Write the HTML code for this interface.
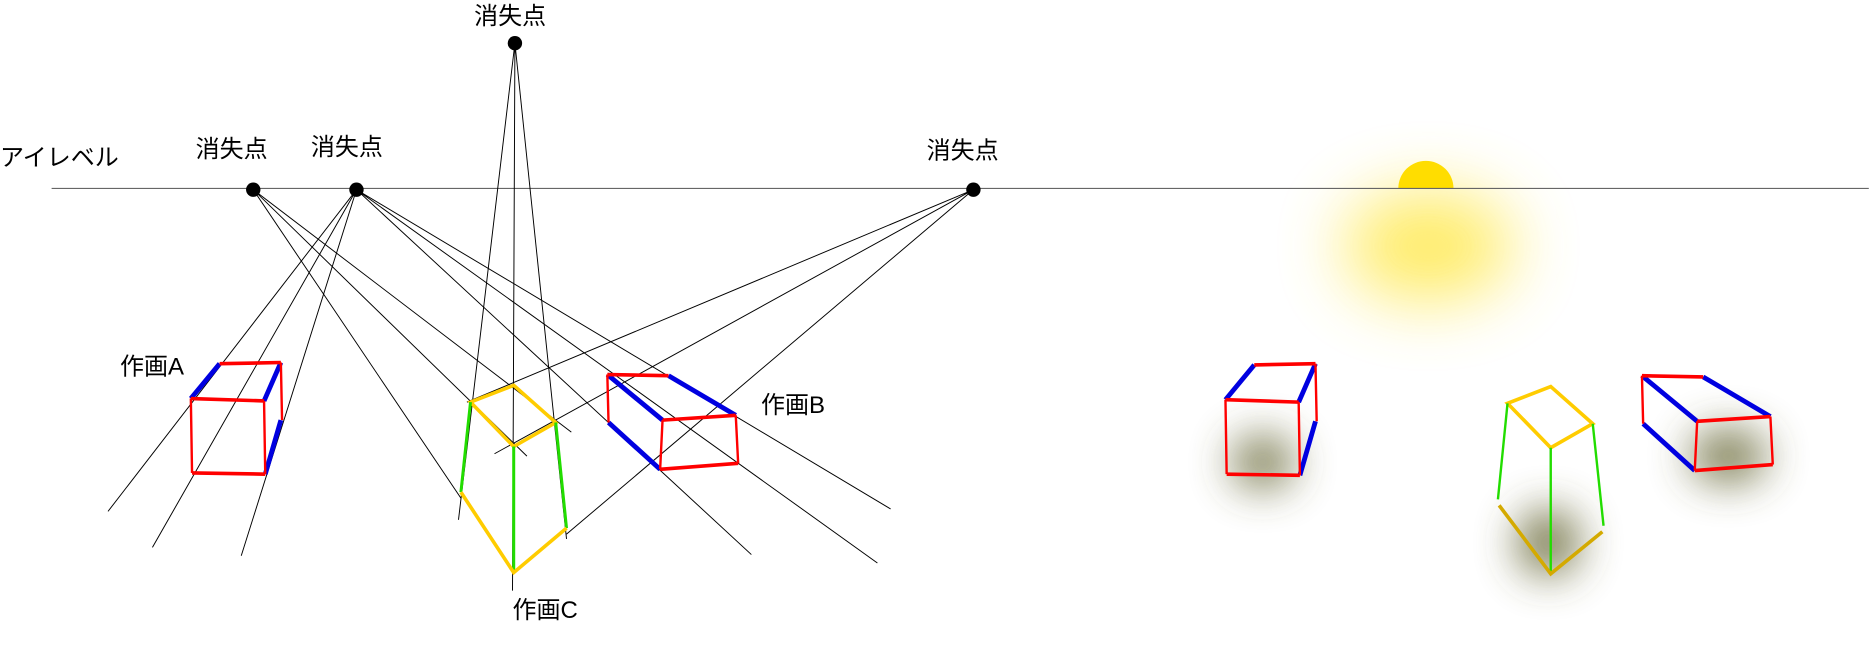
<!DOCTYPE html><html><head><meta charset="utf-8"><style>html,body{margin:0;padding:0;background:#fff}svg{display:block}text{font-family:"Liberation Sans","Noto Sans CJK JP",sans-serif;font-size:20px;fill:#000}</style></head><body>
<svg width="1876" height="647" viewBox="0 0 1563 539" preserveAspectRatio="none" xmlns="http://www.w3.org/2000/svg">
<defs>
<filter id="b1" x="-150%" y="-150%" width="400%" height="400%"><feGaussianBlur stdDeviation="18"/></filter>
<filter id="b2" x="-100%" y="-100%" width="300%" height="300%"><feGaussianBlur stdDeviation="28"/></filter>
<g id="boxA" fill="none" stroke-width="3">
<path d="M159,332L183,303M234,302L220,334M234,350L221,395" stroke="#0000e0" stroke-width="4"/>
<path d="M183,303L234,302M159,332L220,334M160,394L221,395" stroke="#f00" stroke-width="3"/>
<path d="M159,332L160,394M220,334L221,395M234,302L235,350" stroke="#f00" stroke-width="2"/>
</g>
<g id="boxB" fill="none">
<path d="M557,313L613,346M506,312L552,350M507,352L550,391" stroke="#0000e0" stroke-width="4"/>
<path d="M506,312L557,313M552,350L613,346M550,391L615,386" stroke="#f00" stroke-width="3"/>
<path d="M506,312L507,352M552,350L550,391M613,346L615,386" stroke="#f00" stroke-width="2"/>
</g>
</defs>
<ellipse cx="1190" cy="205" rx="70" ry="45" fill="#ffe84a" filter="url(#b2)" opacity="0.85"/>
<path d="M1165,157A23,23 0 0 1 1211,157Z" fill="#ffdd00"/>
<line x1="43" y1="157" x2="1557" y2="157" stroke="#666" stroke-width="1"/>
<ellipse cx="1052" cy="385" rx="26" ry="22" fill="#6b6a3a" filter="url(#b1)" opacity="0.9"/>
<ellipse cx="1440" cy="380" rx="32" ry="22" fill="#6b6a3a" filter="url(#b1)" opacity="0.9"/>
<ellipse cx="1290" cy="452" rx="26" ry="28" fill="#6b6a3a" filter="url(#b1)" opacity="0.9"/>
<g stroke="#000" stroke-width="0.8">
<path d="M211,158L439,380M211,158L476,360M211,158L384,415"/>
<path d="M297,158L90,426M297,158L127,456M297,158L201,463M297,158L742,424M297,158L731,469M297,158L626,462"/>
<path d="M811,158L412,378M811,158L472,445M811,158L389,335"/>
<path d="M429,36L382,433M429,36L427,492M429,36L472,449"/>
</g>
<g fill="#000"><circle cx="211" cy="158" r="6"/><circle cx="297" cy="158" r="6"/><circle cx="811" cy="158" r="6"/><circle cx="429" cy="36" r="6"/></g>
<use href="#boxA"/><use href="#boxB"/>
<use href="#boxA" transform="translate(862,1)"/><use href="#boxB" transform="translate(862,1)"/>
<g fill="none">
<path d="M392,335L428,321L463,352L428,372Z" stroke="#ffcc00" stroke-width="3"/>
<path d="M392,335L384,410M428,372L428,477M463,352L472,440" stroke="#22dd00" stroke-width="2.5"/>
<path d="M384,410L428,477L472,440" stroke="#ffcc00" stroke-width="3"/>
</g>
<g fill="none" transform="translate(864,1)">
<path d="M392,335L428,321L463,352L428,372Z" stroke="#ffcc00" stroke-width="3"/>
<path d="M392,335L384,415M428,372L428,477M463,352L472,437" stroke="#22dd00" stroke-width="2"/>
<path d="M385,420L428,477L471,442" stroke="#d4aa00" stroke-width="3"/>
</g>
<text x="395" y="20">消失点</text>
<text x="163" y="131">消失点</text>
<text x="259" y="129">消失点</text>
<text x="772" y="132">消失点</text>
<text x="0" y="138">アイレベル</text>
<text x="100" y="312">作画A</text>
<text x="634" y="344">作画B</text>
<text x="427" y="515">作画C</text>
</svg>
</body></html>
